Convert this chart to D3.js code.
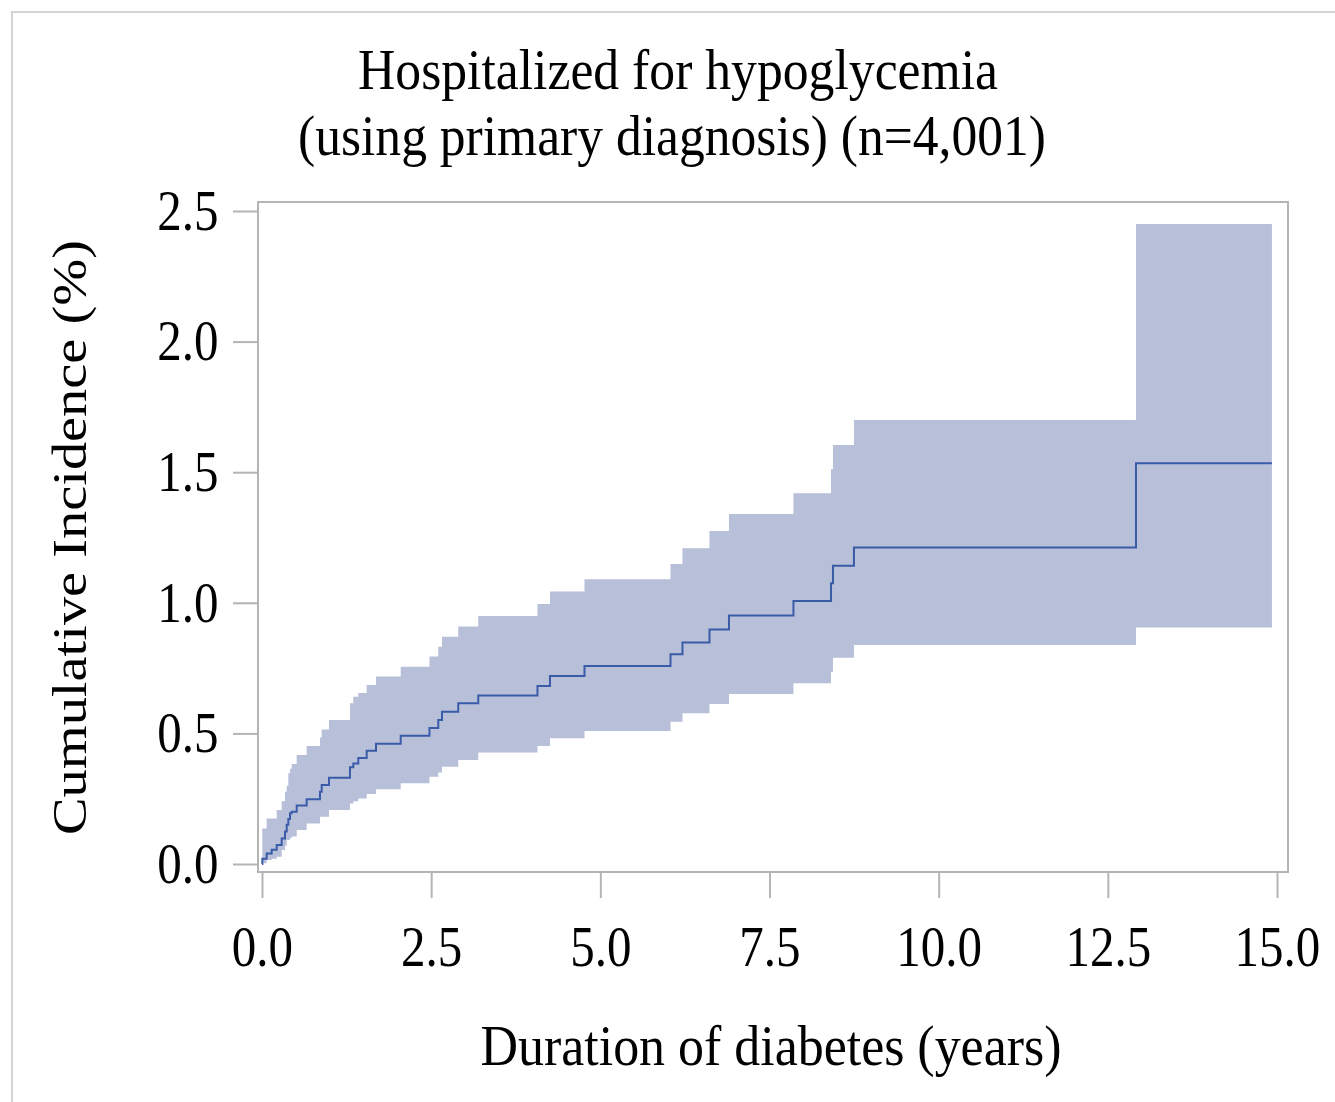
<!DOCTYPE html>
<html>
<head>
<meta charset="utf-8">
<script src="https://cdn.jsdelivr.net/npm/d3@7"></script>
<style>
  body { margin: 0; background: #fff; }
  text { font-family: "Liberation Serif", "Times New Roman", serif; fill: #000; }
</style>
</head>
<body>
<div id="chart"></div>
<script>
// step times (years) and cumulative incidence (%) with 95% band
var years     = [0, 0.005, 0.069, 0.143, 0.217, 0.291, 0.340, 0.365, 0.389, 0.414, 0.439, 0.513, 0.66, 0.857, 0.882, 0.99, 1.30, 1.349, 1.423, 1.547, 1.685, 2.05, 2.475, 2.605, 2.66, 2.90, 3.196, 4.071, 4.256, 4.766, 6.037, 6.214, 6.613, 6.901, 7.854, 8.409, 8.438, 8.748, 12.916, 14.925];
var incidence = [0, 0.020, 0.040, 0.055, 0.073, 0.098, 0.124, 0.150, 0.172, 0.194, 0.200, 0.224, 0.248, 0.277, 0.302, 0.330, 0.370, 0.385, 0.406, 0.434, 0.460, 0.491, 0.521, 0.551, 0.583, 0.615, 0.645, 0.681, 0.720, 0.758, 0.803, 0.848, 0.898, 0.951, 1.007, 1.075, 1.142, 1.212, 1.534, 1.534];
var lowerCI   = [0, 0.003, 0.015, 0.020, 0.028, 0.054, 0.070, 0.092, 0.092, 0.100, 0.105, 0.130, 0.155, 0.181, 0.181, 0.207, 0.232, 0.240, 0.251, 0.268, 0.286, 0.309, 0.334, 0.350, 0.372, 0.398, 0.427, 0.452, 0.481, 0.509, 0.545, 0.577, 0.613, 0.651, 0.692, 0.736, 0.790, 0.838, 0.905, 0.905];
var upperCI   = [0, 0.136, 0.174, 0.174, 0.207, 0.240, 0.277, 0.300, 0.347, 0.365, 0.383, 0.417, 0.452, 0.484, 0.515, 0.551, 0.615, 0.640, 0.655, 0.685, 0.718, 0.755, 0.794, 0.832, 0.870, 0.909, 0.949, 0.995, 1.043, 1.090, 1.149, 1.209, 1.275, 1.340, 1.419, 1.512, 1.604, 1.700, 2.450, 2.450];

var xTicks = [0, 2.5, 5, 7.5, 10, 12.5, 15];
var yTicks = [0, 0.5, 1, 1.5, 2, 2.5];
var titleLines = ["Hospitalized for hypoglycemia", "(using primary diagnosis) (n=4,001)"];
var xLabel = "Duration of diabetes (years)";
var yLabel = "Cumulative Incidence (%)";

var W = 1335, H = 1102;
var frame = { left: 258, top: 202, right: 1288, bottom: 872 };
var squeeze = 0.86; // glyphs in the picture are narrower than normal

var svg = d3.select("#chart")
    .append("svg")
    .attr("width", W)
    .attr("height", H);

// outer border (right and bottom edges fall outside the picture)
svg.append("rect")
    .attr("x", 12).attr("y", 12)
    .attr("width", W + 20).attr("height", H + 20)
    .attr("fill", "none")
    .attr("stroke", "#d4d4d4")
    .attr("stroke-width", 2);

var x = d3.scaleLinear().domain([0, 15]).range([262, 1277]);
var y = d3.scaleLinear().domain([0, 2.5]).range([864, 211]);

var data = years.map(function (t, i) {
    return { t: t, est: incidence[i], lo: lowerCI[i], up: upperCI[i] };
});

// confidence band
svg.append("path")
    .datum(data)
    .attr("fill", "#b7bfd9")
    .attr("d", d3.area()
        .curve(d3.curveStepAfter)
        .x(function (d) { return x(d.t); })
        .y0(function (d) { return y(d.lo); })
        .y1(function (d) { return y(d.up); }));

// estimate
svg.append("path")
    .datum(data)
    .attr("fill", "none")
    .attr("stroke", "#3a5ba8")
    .attr("stroke-width", 2)
    .attr("d", d3.line()
        .curve(d3.curveStepAfter)
        .x(function (d) { return x(d.t); })
        .y(function (d) { return y(d.est); }));

// plot frame
svg.append("rect")
    .attr("x", frame.left).attr("y", frame.top)
    .attr("width", frame.right - frame.left)
    .attr("height", frame.bottom - frame.top)
    .attr("fill", "none")
    .attr("stroke", "#b4b4b4")
    .attr("stroke-width", 2);

// x axis
var axisX = svg.append("g")
    .attr("transform", "translate(0," + (frame.bottom + 1) + ")")
    .call(d3.axisBottom(x).tickValues(xTicks).tickFormat(d3.format(".1f")).tickSize(25).tickPadding(28));
axisX.select(".domain").remove();
axisX.selectAll("line").attr("stroke", "#b4b4b4").attr("stroke-width", 2);
axisX.selectAll("text")
    .attr("font-size", 57)
    .attr("transform", "scale(" + squeeze + ",1)");

// y axis
var axisY = svg.append("g")
    .attr("transform", "translate(" + frame.left + ",0)")
    .call(d3.axisLeft(y).tickValues(yTicks).tickFormat(d3.format(".1f")).tickSize(25).tickPadding(21));
axisY.select(".domain").remove();
axisY.selectAll("line").attr("stroke", "#b4b4b4").attr("stroke-width", 2);
axisY.selectAll("text")
    .attr("font-size", 57)
    .attr("transform", "scale(" + squeeze + ",1)");

// title
svg.append("text")
    .attr("x", 678).attr("y", 89)
    .attr("text-anchor", "middle")
    .attr("font-size", 58)
    .attr("textLength", 640)
    .attr("lengthAdjust", "spacingAndGlyphs")
    .text(titleLines[0]);
svg.append("text")
    .attr("x", 672).attr("y", 155)
    .attr("text-anchor", "middle")
    .attr("font-size", 58)
    .attr("textLength", 748)
    .attr("lengthAdjust", "spacingAndGlyphs")
    .text(titleLines[1]);

// axis labels
svg.append("text")
    .attr("x", 771).attr("y", 1065)
    .attr("text-anchor", "middle")
    .attr("font-size", 57)
    .attr("textLength", 581)
    .attr("lengthAdjust", "spacingAndGlyphs")
    .text(xLabel);
svg.append("text")
    .attr("transform", "translate(86,537.5) scale(" + squeeze + ",1) rotate(-90)")
    .attr("text-anchor", "middle")
    .attr("font-size", 57)
    .attr("textLength", 595)
    .attr("lengthAdjust", "spacingAndGlyphs")
    .text(yLabel);
</script>
</body>
</html>
